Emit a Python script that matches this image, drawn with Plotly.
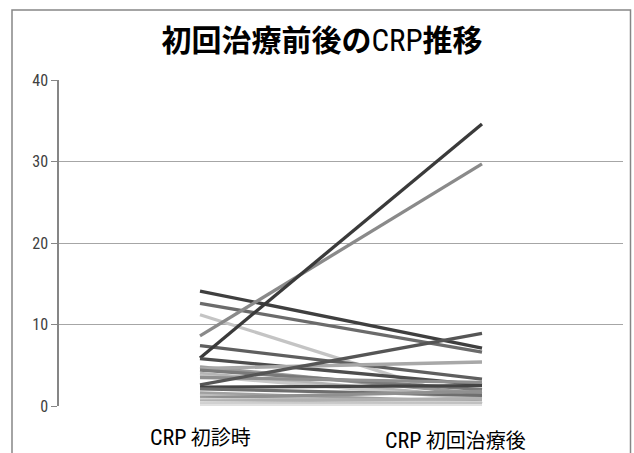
import plotly.graph_objects as go

# ---- data ----
categories = ["CRP 初診時", "CRP 初回治療後"]
crp_initial = [14.1, 12.6, 11.2, 8.6, 7.4, 5.9, 5.8, 4.8, 4.6, 4.4, 4.0, 3.7, 3.5,
               2.6, 2.3, 2.1, 1.6, 1.3, 1.0, 0.8, 0.6, 0.4, 0.2, 0.1]
crp_after = [7.1, 6.6, 0.3, 29.7, 3.3, 34.6, 2.6, 1.5, 5.4, 2.0, 1.1, 0.8, 2.9,
             8.9, 2.5, 1.3, 0.5, 0.2, 1.8, 0.4, 0.9, 0.1, 0.3, 0.05]
line_colors = ["#3f3f3f", "#6b6b6b", "#c4c4c4", "#8a8a8a", "#5f5f5f", "#3a3a3a",
               "#4d4d4d", "#9a9a9a", "#a8a8a8", "#7a7a7a", "#b5b5b5", "#c8c8c8",
               "#8f8f8f", "#555555", "#444444", "#6e6e6e", "#a0a0a0", "#bdbdbd",
               "#909090", "#d0d0d0", "#b0b0b0", "#d8d8d8", "#c0c0c0", "#e0e0e0"]
y_ticks = [0, 10, 20, 30, 40]

NARROW = "Liberation Sans Narrow, Roboto Condensed, Liberation Sans"
title_text = ("<b>初回治療前後の</b><span style='font-family:" + NARROW +
              "; font-size:31px'>CRP</span><b>推移</b>")

W, H = 634, 453
L, R, T, B = 59, 11, 80, 47

fig = go.Figure()
for i, (a, b) in enumerate(zip(crp_initial, crp_after)):
    fig.add_trace(go.Scatter(
        x=[0, 1], y=[a, b], mode="lines",
        line=dict(color=line_colors[i % len(line_colors)], width=3.3),
        showlegend=False, hoverinfo="skip"))

pw = W - L - R
ph = H - T - B
def px_x(p):
    return (p - L) / pw
def px_y(p):
    return (H - B - p) / ph

fig.update_layout(
    width=W, height=H,
    margin=dict(l=L, r=R, t=T, b=B),
    paper_bgcolor="white", plot_bgcolor="white",
    font=dict(family="Noto Sans CJK JP", color="#000000"),
    xaxis=dict(range=[-0.5, 1.5], showticklabels=False, showgrid=False,
               zeroline=False, showline=False, ticks="", fixedrange=True),
    yaxis=dict(range=[0, 40], tickvals=y_ticks, ticktext=[str(v) for v in y_ticks],
               showgrid=True, gridcolor="#a6a6a6", gridwidth=1,
               zeroline=False, showline=True, linecolor="#868686", linewidth=1.5,
               ticks="outside", ticklen=6, tickcolor="#868686",
               tickfont=dict(family=NARROW, size=16, color="#404040")),
    title=dict(text=title_text, x=322 / W, xanchor="center",
               y=1 - 40 / H, yanchor="middle",
               font=dict(family="Noto Sans CJK JP", size=30, color="#000000")),
    shapes=[dict(type="rect", xref="paper", yref="paper",
                 x0=px_x(12), x1=px_x(630.5), y0=px_y(470), y1=px_y(10),
                 line=dict(color="#868686", width=1.5), fillcolor="rgba(0,0,0,0)",
                 layer="below")],
)

label_shift = [0, -27]
label_y = [436, 439]
for i, lab in enumerate(categories):
    parts = lab.split(" ", 1)
    txt = ("<span style='font-family:" + NARROW + "; font-size:22px'>"
           + parts[0] + "</span> " + parts[1])
    fig.add_annotation(x=i, xref="x", y=px_y(label_y[i]), yref="paper",
                       text=txt, showarrow=False, xshift=label_shift[i],
                       yanchor="middle", xanchor="center",
                       font=dict(family="Noto Sans CJK JP", size=20, color="#000000"))

fig.write_html("out.html", config={"displayModeBar": False},
               post_script="document.body.style.margin='0';document.body.style.overflow='hidden';")
